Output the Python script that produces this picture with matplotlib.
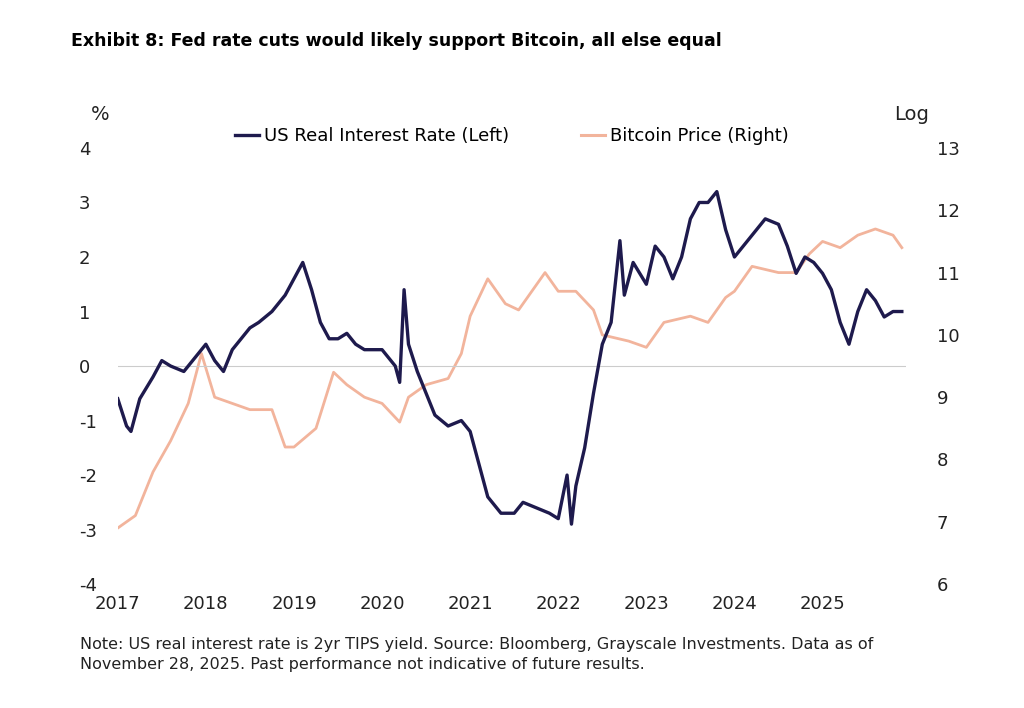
import matplotlib.pyplot as plt

plt.rcParams["axes.unicode_minus"] = False

# US real interest rate (2yr TIPS yield), %
rate_t = [2017.0, 2017.1, 2017.15, 2017.25, 2017.4, 2017.5, 2017.6, 2017.75, 2017.85, 2018.0,
          2018.1, 2018.2, 2018.3, 2018.4, 2018.5, 2018.6, 2018.75, 2018.9, 2019.0, 2019.1,
          2019.2, 2019.3, 2019.4, 2019.5, 2019.6, 2019.7, 2019.8, 2019.9, 2020.0, 2020.15,
          2020.2, 2020.25, 2020.3, 2020.4, 2020.5, 2020.6, 2020.75, 2020.9, 2021.0, 2021.1,
          2021.2, 2021.35, 2021.5, 2021.6, 2021.75, 2021.9, 2022.0, 2022.1, 2022.15, 2022.2,
          2022.3, 2022.4, 2022.5, 2022.6, 2022.7, 2022.75, 2022.85, 2023.0, 2023.1, 2023.2,
          2023.3, 2023.4, 2023.5, 2023.6, 2023.7, 2023.8, 2023.9, 2024.0, 2024.1, 2024.2,
          2024.35, 2024.5, 2024.6, 2024.7, 2024.8, 2024.9, 2025.0, 2025.1, 2025.2, 2025.3,
          2025.4, 2025.5, 2025.6, 2025.7, 2025.8, 2025.9]
rate_v = [-0.6, -1.1, -1.2, -0.6, -0.2, 0.1, 0.0, -0.1, 0.1, 0.4,
          0.1, -0.1, 0.3, 0.5, 0.7, 0.8, 1.0, 1.3, 1.6, 1.9,
          1.4, 0.8, 0.5, 0.5, 0.6, 0.4, 0.3, 0.3, 0.3, 0.0,
          -0.3, 1.4, 0.4, -0.1, -0.5, -0.9, -1.1, -1.0, -1.2, -1.8,
          -2.4, -2.7, -2.7, -2.5, -2.6, -2.7, -2.8, -2.0, -2.9, -2.2,
          -1.5, -0.5, 0.4, 0.8, 2.3, 1.3, 1.9, 1.5, 2.2, 2.0,
          1.6, 2.0, 2.7, 3.0, 3.0, 3.2, 2.5, 2.0, 2.2, 2.4,
          2.7, 2.6, 2.2, 1.7, 2.0, 1.9, 1.7, 1.4, 0.8, 0.4,
          1.0, 1.4, 1.2, 0.9, 1.0, 1.0]

# Bitcoin price, log scale
btc_t = [2017.0, 2017.2, 2017.4, 2017.6, 2017.8, 2017.95, 2018.1, 2018.3, 2018.5, 2018.75,
         2018.9, 2019.0, 2019.25, 2019.45, 2019.6, 2019.8, 2020.0, 2020.2, 2020.3, 2020.5,
         2020.75, 2020.9, 2021.0, 2021.2, 2021.4, 2021.55, 2021.7, 2021.85, 2022.0, 2022.2,
         2022.4, 2022.5, 2022.8, 2023.0, 2023.2, 2023.5, 2023.7, 2023.9, 2024.0, 2024.2,
         2024.5, 2024.7, 2024.85, 2025.0, 2025.2, 2025.4, 2025.6, 2025.8, 2025.9]
btc_v = [6.9, 7.1, 7.8, 8.3, 8.9, 9.7, 9.0, 8.9, 8.8, 8.8,
         8.2, 8.2, 8.5, 9.4, 9.2, 9.0, 8.9, 8.6, 9.0, 9.2,
         9.3, 9.7, 10.3, 10.9, 10.5, 10.4, 10.7, 11.0, 10.7, 10.7,
         10.4, 10.0, 9.9, 9.8, 10.2, 10.3, 10.2, 10.6, 10.7, 11.1,
         11.0, 11.0, 11.3, 11.5, 11.4, 11.6, 11.7, 11.6, 11.4]

years = list(range(2017, 2026))
NAVY = "#1e1a4d"
SALMON = "#f2b49c"

fig = plt.figure(figsize=(10.24, 7.08), dpi=100)
ax = fig.add_axes([0.115, 0.175, 0.77, 0.616])
ax2 = ax.twinx()

ax.axhline(0, color="#cccccc", lw=0.8, zorder=0)
ax2.plot(btc_t, btc_v, color=SALMON, lw=2.0)
l1, = ax.plot(rate_t, rate_v, color=NAVY, lw=2.4)
ax.set_zorder(ax2.get_zorder() + 1)
ax.patch.set_visible(False)

ax.set_xlim(2017, 2025.95)
ax.set_ylim(-4, 4)
ax2.set_ylim(6, 13)
ax.set_xticks(years)
ax.set_yticks(range(-4, 5))
ax2.set_yticks(range(6, 14))
for a in (ax, ax2):
    for s in a.spines.values():
        s.set_visible(False)
    a.tick_params(length=0, labelsize=13, colors="#222222")
ax.tick_params(axis="y", pad=28)
ax.tick_params(axis="x", pad=8)
ax2.tick_params(axis="y", pad=22)
for lab in ax.get_yticklabels():
    lab.set_horizontalalignment("left")

fig.text(0.089, 0.83, "%", fontsize=14, color="#222222")
fig.text(0.873, 0.83, "Log", fontsize=14, color="#222222")

l2, = plt.plot([], [], color=SALMON, lw=2.2)
fig.legend([l1, l2], ["US Real Interest Rate (Left)", "Bitcoin Price (Right)"],
           loc="center", bbox_to_anchor=(0.5, 0.808), ncol=2, frameon=False,
           fontsize=13, handlelength=1.3, handletextpad=0.3, columnspacing=4)

fig.text(0.069, 0.935, "Exhibit 8: Fed rate cuts would likely support Bitcoin, all else equal",
         fontsize=12.5, fontweight="bold")
fig.text(0.078, 0.055,
         "Note: US real interest rate is 2yr TIPS yield. Source: Bloomberg, Grayscale Investments. Data as of\n"
         "November 28, 2025. Past performance not indicative of future results.",
         fontsize=11.5, color="#222222", linespacing=1.4)

fig.savefig("out.png", dpi=100)
